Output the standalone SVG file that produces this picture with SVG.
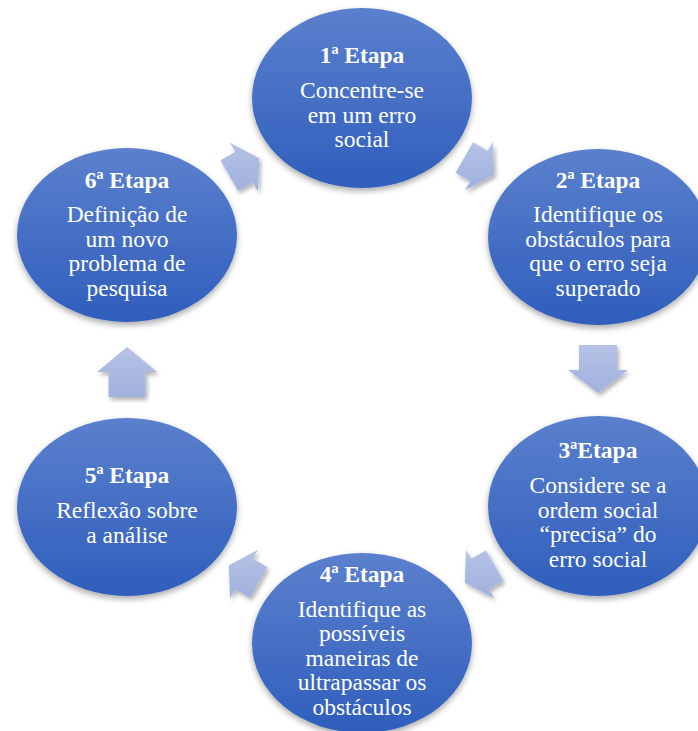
<svg xmlns="http://www.w3.org/2000/svg" width="698" height="731" viewBox="0 0 698 731">
<defs>
<linearGradient id="gCircle" x1="0" y1="0" x2="0" y2="1">
<stop offset="0" stop-color="#5B80CD"/>
<stop offset="1" stop-color="#2F5EBC"/>
</linearGradient>
<linearGradient id="gArrow" x1="0" y1="0" x2="0" y2="1">
<stop offset="0" stop-color="#B6C2E6"/>
<stop offset="1" stop-color="#A0B1DD"/>
</linearGradient>
<filter id="fCircle" x="-20%" y="-20%" width="140%" height="150%">
<feDropShadow dx="0" dy="3" stdDeviation="3" flood-color="#000" flood-opacity="0.35"/>
</filter>
<filter id="fArrow" x="-30%" y="-30%" width="170%" height="170%">
<feDropShadow dx="2" dy="3" stdDeviation="2" flood-color="#000" flood-opacity="0.3"/>
</filter>
</defs>
<style>
.node ellipse{fill:url(#gCircle);filter:url(#fCircle);}
.node text{font-family:"Liberation Serif","Times New Roman",serif;fill:#FFFFFF;font-size:23.5px;text-anchor:middle;}
.node text.t{font-weight:bold;}
.arr{fill:url(#gArrow);filter:url(#fArrow);}
</style>
<rect width="698" height="731" fill="#FFFFFF"/>
<g id="connectors">
<polygon class="arr" points="473,142.3 487.75,150.8 493,141.8 494.2,174.8 465,190.3 470.25,181.2 455.5,172.7"/>
<polygon class="arr" points="579,345 617,345 617,370 628,370 598,393 568,370 579,370"/>
<polygon class="arr" points="503.5,580.7 488.75,589.2 494,598.25 464.8,582.75 466,549.75 471.25,558.8 486,550.3"/>
<polygon class="arr" points="250,597.7 235.25,589.2 230,598.25 228.8,565.25 258,549.75 252.75,558.8 267.5,567.3"/>
<polygon class="arr" points="108.5,397 145.5,397 145.5,372 157,372 127,347 97,372 108.5,372"/>
<polygon class="arr" points="220.5,160.3 235.25,151.8 230,142.75 259.2,158.25 258,191.25 252.75,182.2 238,190.7"/>
</g>
<g id="node1" class="node">
<ellipse cx="362" cy="98" rx="110" ry="90"/>
<text class="t" x="362" y="63">1ª Etapa</text>
<text x="362" y="98">Concentre-se</text>
<text x="362" y="122.5">em um erro</text>
<text x="362" y="147">social</text>
</g>
<g id="node2" class="node">
<ellipse cx="598" cy="237" rx="110" ry="88"/>
<text class="t" x="598" y="188">2ª Etapa</text>
<text x="598" y="222">Identifique os</text>
<text x="598" y="246.5">obstáculos para</text>
<text x="598" y="271">que o erro seja</text>
<text x="598" y="295.5">superado</text>
</g>
<g id="node3" class="node">
<ellipse cx="598" cy="506" rx="110" ry="90"/>
<text class="t" x="598" y="458">3ªEtapa</text>
<text x="598" y="493">Considere se a</text>
<text x="598" y="517.5">ordem social</text>
<text x="598" y="542">“precisa” do</text>
<text x="598" y="566.5">erro social</text>
</g>
<g id="node4" class="node">
<ellipse cx="362" cy="643" rx="110" ry="90"/>
<text class="t" x="362" y="582">4ª Etapa</text>
<text x="362" y="616.5">Identifique as</text>
<text x="362" y="641">possíveis</text>
<text x="362" y="665.5">maneiras de</text>
<text x="362" y="690">ultrapassar os</text>
<text x="362" y="714.5">obstáculos</text>
</g>
<g id="node5" class="node">
<ellipse cx="127" cy="507" rx="110" ry="89"/>
<text class="t" x="127" y="483">5ª Etapa</text>
<text x="127" y="518">Reflexão sobre</text>
<text x="127" y="542.5">a análise</text>
</g>
<g id="node6" class="node">
<ellipse cx="127" cy="235" rx="110" ry="87"/>
<text class="t" x="127" y="188">6ª Etapa</text>
<text x="127" y="222">Definição de</text>
<text x="127" y="246.5">um novo</text>
<text x="127" y="271">problema de</text>
<text x="127" y="295.5">pesquisa</text>
</g>
</svg>
